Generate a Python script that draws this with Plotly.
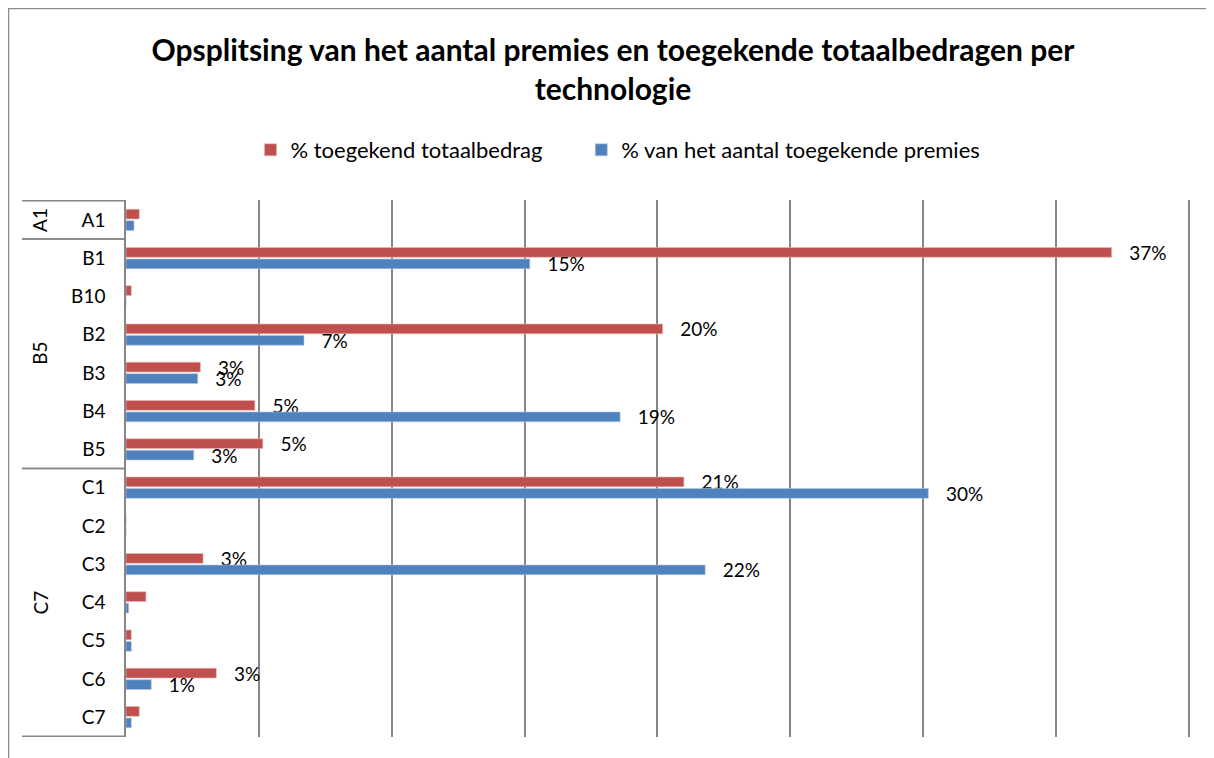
import plotly.graph_objects as go

categories = ["A1", "B1", "B10", "B2", "B3", "B4", "B5", "C1", "C2", "C3", "C4", "C5", "C6", "C7"]
pct_bedrag = [0.5, 37.1, 0.2, 20.2, 2.8, 4.85, 5.15, 21.0, 0, 2.9, 0.75, 0.2, 3.4, 0.5]
pct_aantal = [0.3, 15.2, 0, 6.7, 2.7, 18.6, 2.55, 30.2, 0, 21.8, 0.1, 0.2, 0.95, 0.2]
labels_bedrag = ["", "37%", "", "20%", "3%", "5%", "5%", "21%", "", "3%", "", "", "3%", ""]
labels_aantal = ["", "15%", "", "7%", "3%", "19%", "3%", "30%", "", "22%", "", "", "1%", ""]
group_names = ["A1", "B5", "C7"]
group_first = [0, 1, 7]
group_last = [0, 6, 13]

title_text = "Opsplitsing van het aantal premies en toegekende totaalbedragen per<br>technologie"
name_bedrag = "% toegekend totaalbedrag"
name_aantal = "% van het aantal toegekende premies"

RED = "#C0504D"
BLUE = "#4F81BD"
GRID = "#868686"
FONT = "Lato"
PAD = "\u00a0\u00a0\u00a0"
LEGEND_GAP = "\u00a0" * 6

# page offset (browser body margin)
OFF = 8

fig = go.Figure()
fig.add_trace(go.Bar(
    y=categories, x=pct_bedrag, orientation="h", name=name_bedrag + LEGEND_GAP,
    marker=dict(color=RED, line=dict(color="#E8B5B4", width=0.6)),
    text=[PAD + t if t else "" for t in labels_bedrag], textposition="outside",
    textfont=dict(size=19, color="black", family=FONT), cliponaxis=False,
    constraintext="none", hoverinfo="x+y",
))
fig.add_trace(go.Bar(
    y=categories, x=pct_aantal, orientation="h", name=name_aantal,
    marker=dict(color=BLUE, line=dict(color="#B3C7E3", width=0.6)),
    text=[PAD + t if t else "" for t in labels_aantal], textposition="outside",
    textfont=dict(size=19, color="black", family=FONT), cliponaxis=False,
    constraintext="none", hoverinfo="x+y",
))

W, H = 1214 - OFF, 758 - OFF
L = 126 - OFF
T = 200 - OFF
R = W - (1190 - OFF)
B = H - (737 - OFF)
pw, ph = W - L - R, H - T - B

def px_to_xpaper(px):
    # px in screenshot coordinates
    return (px - OFF - L) / pw

def py_to_ypaper(py):
    return 1 - (py - OFF - T) / ph

shapes = []
for g0, g1 in zip(group_first, group_last):
    for yv in (g0 - 0.5, g1 + 0.5):
        shapes.append(dict(type="line", xref="paper", yref="y",
                           x0=px_to_xpaper(22), x1=0, y0=yv, y1=yv,
                           line=dict(color=GRID, width=1.5)))
shapes.append(dict(type="line", xref="paper", yref="paper",
                   x0=px_to_xpaper(8), x1=px_to_xpaper(1240),
                   y0=py_to_ypaper(8), y1=py_to_ypaper(8),
                   line=dict(color="#8C8C8C", width=2.5)))
shapes.append(dict(type="line", xref="paper", yref="paper",
                   x0=px_to_xpaper(8), x1=px_to_xpaper(8),
                   y0=py_to_ypaper(8), y1=py_to_ypaper(780),
                   line=dict(color="#8C8C8C", width=2.5)))

annotations = []
for name, g0, g1 in zip(group_names, group_first, group_last):
    annotations.append(dict(text=name, xref="paper", yref="y",
                            x=px_to_xpaper(40), y=(g0 + g1) / 2,
                            xanchor="center", yanchor="middle",
                            textangle=-90, showarrow=False,
                            font=dict(size=19, color="black", family=FONT)))

fig.update_layout(
    width=W, height=H,
    margin=dict(l=L, r=R, t=T, b=B, autoexpand=False),
    paper_bgcolor="white", plot_bgcolor="white",
    barmode="group", bargap=0.4, bargroupgap=0.15,
    title=dict(text=title_text, x=(613 - OFF) / W, xanchor="center",
               y=1 - (61 - OFF) / H, yanchor="top",
               font=dict(size=30, color="black", family=FONT, weight="bold")),
    legend=dict(orientation="h", x=px_to_xpaper(618), xanchor="center",
                y=py_to_ypaper(150), yanchor="middle",
                font=dict(size=22, color="black", family=FONT),
                itemwidth=30, traceorder="normal"),
    showlegend=True,
    xaxis=dict(range=[0, 40.05], tickvals=[5, 10, 15, 20, 25, 30, 35, 40],
               showticklabels=False, showgrid=True,
               gridcolor=GRID, gridwidth=1.5, zeroline=False, showline=False,
               fixedrange=True),
    yaxis=dict(autorange="reversed", showline=True, linecolor=GRID, linewidth=1.5,
               showgrid=False, ticks="", ticklabelstandoff=15,
               tickfont=dict(size=19, color="black", family=FONT)),
    shapes=shapes, annotations=annotations,
    font=dict(family=FONT, color="black"),
)

fig.write_html("out.html")
